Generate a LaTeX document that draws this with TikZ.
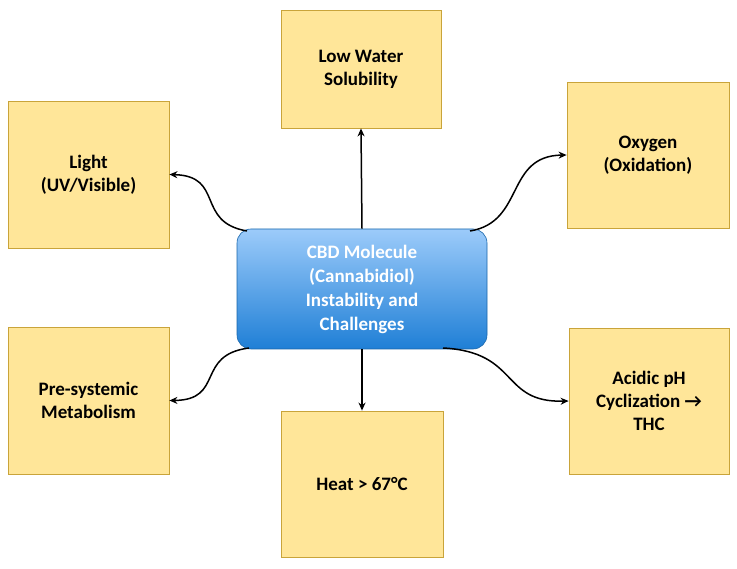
\documentclass[tikz,border=0pt]{standalone}
\usepackage{fontspec}
\setmainfont{Carlito}
\usetikzlibrary{arrows.meta}
\definecolor{boxfill}{HTML}{FFE699}
\definecolor{boxline}{HTML}{C9A43A}
\definecolor{ctop}{HTML}{9CCBFA}
\definecolor{cbot}{HTML}{1F7FD6}
\begin{document}
\begin{tikzpicture}[x=1pt,y=-1pt,
  box/.style={draw=boxline,fill=boxfill,line width=0.8pt,align=center,font=\bfseries\fontsize{19}{23}\selectfont,inner sep=0pt},
  arr/.style={-{Stealth[length=8pt,width=7pt]},line width=1.5pt,black}]
\useasboundingbox (0,0) rectangle (737,569);
\node[box,minimum width=161,minimum height=147] (light) at (88.5,174.5) {Light\\(UV/Visible)};
\node[box,minimum width=160,minimum height=118] (water) at (361,69) {Low Water\\Solubility};
\node[box,minimum width=162,minimum height=146] (oxy) at (648,155) {Oxygen\\(Oxidation)};
\node[box,minimum width=161,minimum height=147] (pre) at (88.5,400.5) {Pre-systemic\\Metabolism};
\node[box,minimum width=162,minimum height=146] (heat) at (362,484) {Heat > 67°C};
\node[box,minimum width=160,minimum height=146] (acid) at (649,401) {Acidic pH\\Cyclization →\\THC};
\node[draw=cbot!80!black,line width=0.6pt,rounded corners=14pt,top color=ctop,bottom color=cbot,text=white,align=center,font=\bfseries\fontsize{19}{24}\selectfont,minimum width=250,minimum height=120,inner sep=0pt] (c) at (362,289) {CBD Molecule\\(Cannabidiol)\\Instability and\\Challenges};
\coordinate (c1) at (247,231);
\coordinate (c2) at (470,231);
\coordinate (c3) at (249,348);
\coordinate (c4) at (443,348);
\draw[arr] (c.north) -- (water.south);
\draw[arr] (c.south) -- (heat.south |- heat.north);
\draw[arr] (c1) .. controls (195,222) and (225,176) .. (light.east);
\draw[arr] (c2) .. controls (525,222) and (505,156) .. (oxy.west);
\draw[arr] (c3) .. controls (195,355) and (225,400) .. (pre.east);
\draw[arr] (c4) .. controls (520,352) and (500,403) .. (acid.west);
\end{tikzpicture}
\end{document}
